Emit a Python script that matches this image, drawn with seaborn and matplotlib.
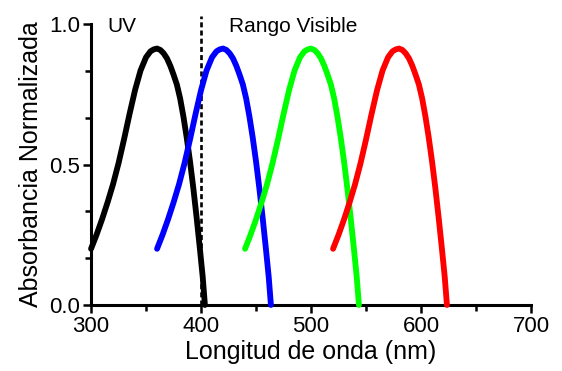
import numpy as np
import pandas as pd
import matplotlib
matplotlib.use("Agg")
import matplotlib.pyplot as plt
from matplotlib.ticker import MultipleLocator, AutoMinorLocator
import seaborn as sns

# Data (normalized absorbance spectra)
wl_uv = [300, 305, 310, 315, 320, 325, 330, 335, 340, 345, 350, 354, 357, 360,
         363, 366, 369, 372, 375, 378, 381, 384, 387, 390, 393, 396, 399, 401.5, 403.5]
abs_uv = [0.20, 0.25, 0.305, 0.365, 0.43, 0.505, 0.59, 0.68, 0.765, 0.835, 0.882, 0.903, 0.91, 0.913,
          0.908, 0.896, 0.878, 0.852, 0.82, 0.785, 0.735, 0.67, 0.595, 0.51, 0.415, 0.31, 0.198, 0.10, 0.0]

wl_blue = [360, 365, 370, 375, 380, 385, 390, 395, 400, 405, 410, 414, 417, 420,
           423, 426, 429, 432, 435, 438, 441, 444, 447, 450, 453, 456, 459, 461.5, 463.5]
abs_blue = [0.20, 0.25, 0.305, 0.365, 0.43, 0.505, 0.59, 0.68, 0.765, 0.835, 0.882, 0.903, 0.91, 0.913,
            0.908, 0.896, 0.878, 0.852, 0.82, 0.785, 0.735, 0.67, 0.595, 0.51, 0.415, 0.31, 0.198, 0.10, 0.0]

wl_green = [440, 445, 450, 455, 460, 465, 470, 475, 480, 485, 490, 494, 497, 500,
            503, 506, 509, 512, 515, 518, 521, 524, 527, 530, 533, 536, 539, 541.5, 543.5]
abs_green = [0.20, 0.25, 0.305, 0.365, 0.43, 0.505, 0.59, 0.68, 0.765, 0.835, 0.882, 0.903, 0.91, 0.913,
             0.908, 0.896, 0.878, 0.852, 0.82, 0.785, 0.735, 0.67, 0.595, 0.51, 0.415, 0.31, 0.198, 0.10, 0.0]

wl_red = [520, 525, 530, 535, 540, 545, 550, 555, 560, 565, 570, 574, 577, 580,
          583, 586, 589, 592, 595, 598, 601, 604, 607, 610, 613, 616, 619, 621.5, 623.5]
abs_red = [0.20, 0.25, 0.305, 0.365, 0.43, 0.505, 0.59, 0.68, 0.765, 0.835, 0.882, 0.903, 0.91, 0.913,
           0.908, 0.896, 0.878, 0.852, 0.82, 0.785, 0.735, 0.67, 0.595, 0.51, 0.415, 0.31, 0.198, 0.10, 0.0]

series = [(wl_uv, abs_uv, "#000000"),
          (wl_blue, abs_blue, "#0000FF"),
          (wl_green, abs_green, "#00FF00"),
          (wl_red, abs_red, "#FF0000")]

visible_edge = 400
x_ticks = [300, 400, 500, 600, 700]
y_ticks = [0.0, 0.5, 1.0]

sns.set_style("ticks")
plt.rcParams['font.family'] = ['Liberation Sans', 'DejaVu Sans']
plt.rcParams.update({"text.color": "black", "axes.labelcolor": "black",
                     "xtick.color": "black", "ytick.color": "black",
                     "axes.edgecolor": "black"})

fig = plt.figure(figsize=(5.62, 3.71), dpi=100)
ax = fig.add_axes([0.162, 0.178, 0.783, 0.757])

for wl, ab, col in series:
    df = pd.DataFrame({"wl": wl, "ab": ab})
    sns.lineplot(data=df, x="wl", y="ab", ax=ax, color=col, lw=4.2,
                 sort=False, estimator=None, solid_capstyle="round",
                 solid_joinstyle="round", clip_on=False, zorder=3)

ax.plot([visible_edge, visible_edge], [0, 1.03], color="black", lw=1.9,
        ls=(0, (1.9, 1.2)), clip_on=False, zorder=2)

ax.text(314.5, 0.99, "UV", fontsize=15, ha="left", va="center", color="black")
ax.text(425.5, 0.99, "Rango Visible", fontsize=15, ha="left", va="center", color="black")

ax.set_xlim(300, 700)
ax.set_ylim(0, 1.0)
ax.set_xticks(x_ticks)
ax.set_yticks(y_ticks)
ax.set_yticklabels([f"{v:.1f}" for v in y_ticks])
ax.xaxis.set_minor_locator(MultipleLocator(50))
ax.yaxis.set_minor_locator(AutoMinorLocator(3))

ax.set_xlabel("Longitud de onda (nm)", fontsize=18, labelpad=2, color="black")
ax.set_ylabel("Absorbancia Normalizada", fontsize=18, labelpad=4, color="black")

for s in ["top", "right"]:
    ax.spines[s].set_visible(False)
for s in ["left", "bottom"]:
    ax.spines[s].set_linewidth(2.2)
    ax.spines[s].set_color("black")
ax.tick_params(axis="both", which="major", length=6, width=1.8, labelsize=16, pad=2,
               color="black", labelcolor="black")
ax.tick_params(axis="both", which="minor", length=4.5, width=1.8, color="black")

fig.savefig("out.png", dpi=100)
